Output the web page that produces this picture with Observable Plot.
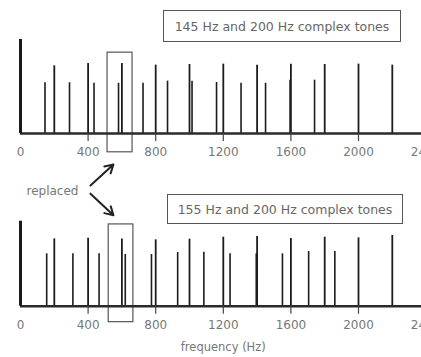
<!DOCTYPE html>
<html><head><meta charset="utf-8">
<script src="https://cdn.jsdelivr.net/npm/d3@7"></script>
<script src="https://cdn.jsdelivr.net/npm/@observablehq/plot@0.6"></script>
<style>
body{margin:0;background:#fff;}
#wrap{position:relative;width:421px;height:357px;overflow:hidden;font-family:"DejaVu Sans",sans-serif;}
#wrap svg{position:absolute;left:0;top:0;max-width:none !important;width:440px !important;height:357px !important;}
.title{position:absolute;border:1px solid #555;color:#666;font-size:12.5px;display:flex;align-items:center;justify-content:center;box-sizing:border-box;white-space:nowrap;background:#fff;}
</style></head><body>
<div id="wrap"></div>
<script>
// Top panel: 145 Hz and 200 Hz complex tones
const topTitle = "145 Hz and 200 Hz complex tones";
const topLowFreq = [145,290,435,580,725,870,1015,1160,1305,1450,1595,1740];
const topLowAmp  = [0.54,0.54,0.535,0.535,0.535,0.557,0.557,0.543,0.535,0.535,0.567,0.567];
const topHighFreq = [200,400,600,800,1000,1200,1400,1600,1800,2000,2200];
const topHighAmp  = [0.72,0.745,0.745,0.727,0.734,0.738,0.727,0.738,0.734,0.738,0.727];
const topAxisTop = 1.0;

// Bottom panel: 155 Hz and 200 Hz complex tones
const botTitle = "155 Hz and 200 Hz complex tones";
const botLowFreq = [155,310,465,620,775,930,1085,1240,1395,1550,1705,1860];
const botLowAmp  = [0.557,0.557,0.557,0.55,0.55,0.571,0.574,0.557,0.557,0.557,0.582,0.582];
const botHighFreq = [200,400,600,800,1000,1200,1400,1600,1800,2000,2200];
const botHighAmp  = [0.716,0.723,0.716,0.706,0.713,0.734,0.741,0.72,0.734,0.727,0.752];
const botAxisTop = 0.904;

// Axis
const tickMarks = [400,800,1200,1600,2000];
const tickLabels = [0,400,800,1200,1600,2000,2400];
const xLabel = "frequency (Hz)";

// "replaced" box (frequency range, amplitude range) per panel
const boxTop = {x1:515, x2:663, y1:-0.2, y2:0.86};
const boxBot = {x1:522, x2:668, y1:-0.17, y2:0.87};

// Annotation (in top-panel units)
const noteText = ["replaced"];
const noteX = [189], noteY = [-0.61];
const arrowX1 = [414, 414], arrowY1 = [-0.553, -0.64];
const arrowX2 = [550, 550], arrowY2 = [-0.33, -0.87];

const H = 357;
function panel(lowF, lowA, highF, highA, axisTop, box, frameBottom, extra) {
  const low = lowF.map((f,i)=>({f, a:lowA[i]}));
  const high = highF.map((f,i)=>({f, a:highA[i]}));
  return Plot.plot({
    width: 440, height: H,
    marginLeft: 20, marginRight: 14.4,
    marginTop: frameBottom - 94, marginBottom: H - frameBottom,
    x: {domain:[0,2400], axis:null},
    y: {domain:[0,1], axis:null},
    style: {background:"transparent", overflow:"visible", maxWidth:"none", fontFamily:"DejaVu Sans, sans-serif"},
    marks: [
      Plot.rect([box], {x1:"x1", x2:"x2", y1:"y1", y2:"y2", fill:"none", stroke:"#555", strokeWidth:1.2}),
      Plot.ruleX(low, {x:"f", y1:0, y2:"a", stroke:"#1c1c1c", strokeWidth:1.6}),
      Plot.ruleX(high, {x:"f", y1:0, y2:"a", stroke:"#1c1c1c", strokeWidth:1.8}),
      Plot.ruleY([0], {x1:0, x2:2400, stroke:"#2a2a2a", strokeWidth:2.5}),
      Plot.ruleX([0], {y1:0, y2:axisTop, stroke:"#1a1a1a", strokeWidth:3}),
      Plot.axisX(tickMarks, {tickSize:8, stroke:"#444", strokeWidth:1.2, tickFormat:()=>""}),
      Plot.axisX(tickLabels, {tickSize:0, tickPadding:14, fill:"#777", fontSize:12, tickFormat:d=>String(d)}),
      ...extra
    ]
  });
}

const wrap = document.getElementById("wrap");
const topExtra = [
  Plot.text(noteText, {x:noteX, y:noteY, fill:"#777", fontSize:12}),
  Plot.arrow(arrowX1, {x1:arrowX1, y1:arrowY1, x2:arrowX2, y2:arrowY2, stroke:"#222", strokeWidth:2, headLength:7})
];
const botExtra = [
  Plot.text([xLabel], {frameAnchor:"bottom", dy:45, fill:"#777", fontSize:11.5})
];
wrap.appendChild(panel(topLowFreq, topLowAmp, topHighFreq, topHighAmp, topAxisTop, boxTop, 133, topExtra));
wrap.appendChild(panel(botLowFreq, botLowAmp, botHighFreq, botHighAmp, botAxisTop, boxBot, 305.7, botExtra));

function addTitle(text, left, top, w, h) {
  const d = document.createElement("div");
  d.className = "title";
  d.style.left = left+"px"; d.style.top = top+"px";
  d.style.width = w+"px"; d.style.height = h+"px";
  d.textContent = text;
  wrap.appendChild(d);
}
addTitle(topTitle, 163, 10, 238, 32);
addTitle(botTitle, 167, 194, 236, 30);
</script>
</body></html>
